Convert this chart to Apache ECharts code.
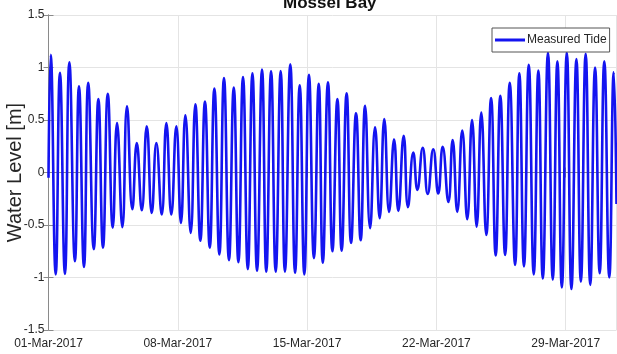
<!DOCTYPE html>
<html>
<head>
<meta charset="utf-8">
<script src="https://cdn.jsdelivr.net/npm/echarts@6/dist/echarts.min.js"></script>
<style>
html,body{margin:0;padding:0;background:#fff;}
#chart{width:617px;height:354px;}
</style>
</head>
<body>
<div id="chart"></div>
<script>
// Days since 01-Mar-2017 00:00
const tickLabels = ['01-Mar-2017', '08-Mar-2017', '15-Mar-2017', '22-Mar-2017', '29-Mar-2017'];
const yTicks = [-1.5, -1, -0.5, 0, 0.5, 1, 1.5];

const highTimes = [0.12,0.62,1.13,1.65,2.15,2.70,3.21,3.71,4.25,4.78,5.32,5.84,6.38,6.92,7.41,7.95,8.47,8.98,9.50,10.03,
  10.53,11.04,11.56,12.05,12.57,13.09,13.60,14.10,14.63,15.13,15.64,16.14,16.65,17.14,17.68,18.18,18.71,19.23,19.75,20.26,
  20.83,21.34,21.88,22.40,22.93,23.43,23.96,24.46,24.97,25.49,26.00,26.52,27.04,27.55,28.06,28.58,29.08,29.59,30.09,30.60];
const highLevels = [1.12,0.95,1.05,0.82,0.855,0.70,0.75,0.47,0.63,0.28,0.44,0.28,0.47,0.44,0.545,0.65,0.675,0.80,0.90,0.81,
  0.91,0.945,0.98,0.965,0.965,1.03,0.83,0.93,0.845,0.86,0.70,0.755,0.565,0.635,0.43,0.51,0.315,0.35,0.19,0.235,
  0.22,0.245,0.31,0.40,0.50,0.57,0.71,0.73,0.855,0.945,1.025,0.97,1.14,1.06,1.14,1.08,1.13,1.0,1.06,0.955];
const lowTimes = [0.39,0.89,1.43,1.92,2.45,2.95,3.48,4.00,4.54,5.05,5.59,6.13,6.65,7.17,7.70,8.22,8.73,9.25,9.77,10.28,
  10.79,11.29,11.79,12.30,12.80,13.35,13.85,14.37,14.85,15.37,15.87,16.38,16.90,17.41,17.93,18.44,18.94,19.46,19.97,20.53,
  21.10,21.65,22.13,22.67,23.18,23.70,24.21,24.72,25.26,25.74,26.27,26.76,27.30,27.79,28.31,28.82,29.33,29.84,30.36];
const lowLevels = [-0.97,-0.965,-0.845,-0.90,-0.73,-0.715,-0.525,-0.52,-0.35,-0.36,-0.385,-0.40,-0.40,-0.48,-0.575,-0.65,-0.715,-0.78,-0.835,-0.855,
  -0.92,-0.935,-0.945,-0.945,-0.945,-0.955,-0.97,-0.815,-0.86,-0.75,-0.745,-0.67,-0.645,-0.53,-0.435,-0.375,-0.365,-0.33,-0.165,-0.205,
  -0.20,-0.28,-0.375,-0.445,-0.515,-0.595,-0.79,-0.785,-0.88,-0.895,-0.97,-1.01,-1.02,-1.095,-1.11,-1.04,-1.07,-0.96,-1.0];
const edgeTimes = [0, 30.75];
const edgeLevels = [-0.05, -0.3];

const points = [];
for (let i = 0; i < edgeTimes.length; i++) points.push([edgeTimes[i], edgeLevels[i]]);
for (let i = 0; i < highTimes.length; i++) points.push([highTimes[i], highLevels[i]]);
for (let i = 0; i < lowTimes.length; i++) points.push([lowTimes[i], lowLevels[i]]);
points.sort((a, b) => a[0] - b[0]);

const FONT = "'Liberation Sans', Arial, sans-serif";
const axisCol = '#8a8a8a';
const gridCol = '#e4e4e4';
const textCol = '#262626';

const chart = echarts.init(document.getElementById('chart'), null, {renderer: 'canvas'});
chart.setOption({
  animation: false,
  backgroundColor: '#ffffff',
  title: {
    text: 'Mossel Bay',
    left: 283,
    top: -5,
    padding: 0,
    textStyle: {fontFamily: FONT, fontWeight: 'bold', fontSize: 17, color: '#111'}
  },
  legend: {
    data: ['Measured Tide'],
    left: 492,
    top: 28,
    padding: [6, 3, 6, 3],
    itemWidth: 30,
    itemHeight: 3,
    itemGap: 0,
    icon: 'rect',
    backgroundColor: '#ffffff',
    borderColor: '#555555',
    borderWidth: 1,
    borderRadius: 0,
    textStyle: {fontFamily: FONT, fontSize: 12, color: textCol, padding: [0, 0, 0, -3]}
  },
  grid: {left: 48.5, right: 0.5, top: 15, bottom: 24, outerBoundsMode: 'none', containLabel: false},
  xAxis: [{
    type: 'value',
    min: 0,
    max: 30.75,
    interval: 7,
    axisLine: {show: true, lineStyle: {color: axisCol, width: 1}},
    axisTick: {show: true, inside: true, length: 5, lineStyle: {color: axisCol}},
    splitLine: {show: true, lineStyle: {color: gridCol, width: 1}},
    axisLabel: {
      margin: 8,
      fontFamily: FONT, fontSize: 12, color: textCol,
      formatter: function (v) {
        const k = Math.round(v / 7);
        return (Math.abs(v - k * 7) < 1e-6 && tickLabels[k]) ? tickLabels[k] : '';
      }
    }
  }, {
    type: 'value',
    position: 'top',
    min: 0,
    max: 30.75,
    interval: 7,
    axisLine: {show: true, lineStyle: {color: axisCol, width: 1}},
    axisTick: {show: true, inside: true, length: 5, lineStyle: {color: axisCol}},
    splitLine: {show: false},
    axisLabel: {show: false}
  }],
  yAxis: [{
    type: 'value',
    min: yTicks[0],
    max: yTicks[yTicks.length - 1],
    interval: 0.5,
    name: 'Water Level [m]',
    nameLocation: 'middle',
    nameGap: 23,
    nameMoveOverlap: false,
    nameTextStyle: {fontFamily: FONT, fontSize: 20, color: textCol},
    axisLine: {show: true, lineStyle: {color: axisCol, width: 1}},
    axisTick: {show: true, inside: true, length: 5, lineStyle: {color: axisCol}},
    splitLine: {show: true, lineStyle: {color: gridCol, width: 1}},
    axisLabel: {
      margin: 4,
      fontFamily: FONT, fontSize: 12, color: textCol,
      formatter: function (v) { return String(Math.round(v * 10) / 10); }
    }
  }, {
    type: 'value',
    position: 'right',
    min: yTicks[0],
    max: yTicks[yTicks.length - 1],
    interval: 0.5,
    axisLine: {show: true, lineStyle: {color: axisCol, width: 1}},
    axisTick: {show: true, inside: true, length: 5, lineStyle: {color: axisCol}},
    splitLine: {show: false},
    axisLabel: {show: false}
  }],
  series: [{
    name: 'Measured Tide',
    type: 'line',
    xAxisIndex: 0,
    yAxisIndex: 0,
    data: points,
    smooth: 0.5,
    showSymbol: false,
    symbol: 'none',
    clip: true,
    lineStyle: {color: '#1414f0', width: 2.6},
    itemStyle: {color: '#1414f0'},
    z: 2
  }]
});
</script>
</body>
</html>
